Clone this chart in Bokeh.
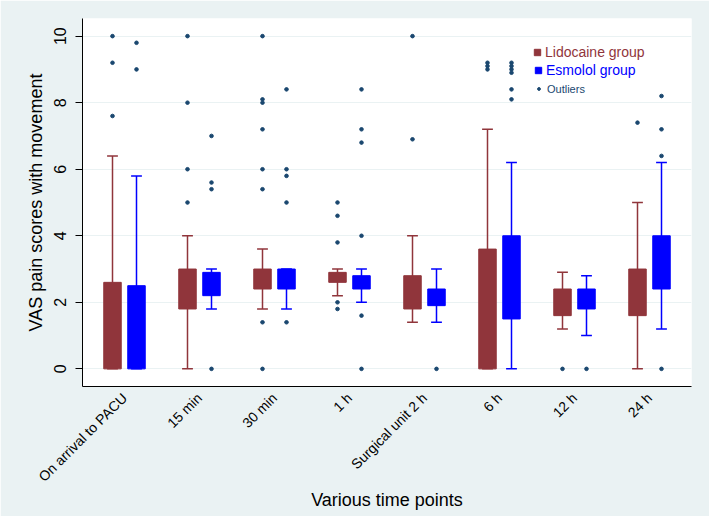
import math
from bokeh.plotting import figure
from bokeh.models import Range1d, FixedTicker, Legend, LegendItem
from bokeh.embed import file_html
from bokeh.resources import INLINE

categories = ["On arrival to PACU", "15 min", "30 min", "1 h",
              "Surgical unit 2 h", "6 h", "12 h", "24 h"]

# Lidocaine group: box (q1..q3), whisker ends, outliers
lido_q1 = [0.0, 1.8, 2.4, 2.6, 1.8, 0.0, 1.6, 1.6]
lido_q3 = [2.6, 3.0, 3.0, 2.9, 2.8, 3.6, 2.4, 3.0]
lido_lo = [0.0, 0.0, 1.8, 2.2, 1.4, 0.0, 1.2, 0.0]
lido_hi = [6.4, 4.0, 3.6, 3.0, 4.0, 7.2, 2.9, 5.0]
lido_out = [[10, 9.2, 7.6], [10, 8, 6, 5], [10, 8.1, 8.0, 7.2, 6.0, 5.4, 1.4, 0],
            [5.0, 4.6, 3.8, 2.0, 1.8], [10, 6.9], [9.2, 9.1, 9.0], [0], [7.4]]

# Esmolol group
esmo_q1 = [0.0, 2.2, 2.4, 2.4, 1.9, 1.5, 1.8, 2.4]
esmo_q3 = [2.5, 2.9, 3.0, 2.8, 2.4, 4.0, 2.4, 4.0]
esmo_lo = [0.0, 1.8, 1.8, 2.0, 1.4, 0.0, 1.0, 1.2]
esmo_hi = [5.8, 3.0, 3.0, 3.0, 3.0, 6.2, 2.8, 6.2]
esmo_out = [[9.8, 9.0], [7.0, 5.6, 5.4, 0], [8.4, 6.0, 5.8, 5.0, 1.4],
            [8.4, 7.2, 6.8, 4.0, 1.6, 0], [0], [9.2, 9.1, 9.0, 8.9, 8.4, 8.1],
            [0], [8.2, 7.2, 6.4, 0]]

y_ticks = [0, 2, 4, 6, 8, 10]

BG = "#eaf2f3"
MAROON = "#90353b"
BLUE = "#0000ff"
NAVY = "#1a476f"
FONT = "Liberation Sans"

OFF = 0.16
BOX_W = 0.233
CAP = 0.072

p = figure(width=709, height=516, output_backend="svg", toolbar_location=None,
           x_range=Range1d(-0.56, 7.56), y_range=Range1d(-0.53, 10.53),
           min_border_left=82, min_border_right=18, min_border_top=18,
           min_border_bottom=130)
p.background_fill_color = "white"
p.border_fill_color = BG
p.outline_line_color = None
p.xgrid.grid_line_color = None
p.ygrid.grid_line_color = BG
p.ygrid.grid_line_width = 1.2

idx = list(range(len(categories)))


def draw_group(q1, q3, lo, hi, outs, shift, color):
    xs = [i + shift for i in idx]
    p.segment(x0=xs, y0=lo, x1=xs, y1=hi, line_color=color, line_width=1.5)
    p.segment(x0=[x - CAP for x in xs], y0=hi, x1=[x + CAP for x in xs], y1=hi,
              line_color=color, line_width=1.5)
    p.segment(x0=[x - CAP for x in xs], y0=lo, x1=[x + CAP for x in xs], y1=lo,
              line_color=color, line_width=1.5)
    p.vbar(x=xs, width=BOX_W, bottom=q1, top=q3, fill_color=color,
           line_color=color, line_width=1)
    ox, oy = [], []
    for x, vals in zip(xs, outs):
        for v in vals:
            ox.append(x)
            oy.append(v)
    return p.scatter(x=ox, y=oy, size=3.6, color=NAVY, marker="circle")


out_r = draw_group(lido_q1, lido_q3, lido_lo, lido_hi, lido_out, -OFF, MAROON)
draw_group(esmo_q1, esmo_q3, esmo_lo, esmo_hi, esmo_out, OFF, BLUE)

# axes
p.xaxis.ticker = FixedTicker(ticks=idx)
p.xaxis.major_label_overrides = {i: c for i, c in enumerate(categories)}
p.xaxis.major_label_orientation = math.pi / 4
p.xaxis.major_tick_out = 0
p.xaxis.major_tick_in = 0
p.xaxis.minor_tick_out = 0
p.xaxis.minor_tick_in = 0
p.xaxis.major_label_standoff = 9
p.xaxis.major_label_text_font_size = "14px"
p.xaxis.axis_label = "Various time points"
p.xaxis.axis_label_standoff = -3
p.xaxis.axis_line_color = "black"

p.yaxis.ticker = FixedTicker(ticks=y_ticks)
p.yaxis.minor_tick_line_color = None
p.yaxis.major_tick_out = 7
p.yaxis.major_tick_in = 0
p.yaxis.major_label_orientation = "parallel"
p.yaxis.major_label_standoff = 9
p.yaxis.major_label_text_font_size = "16px"
p.yaxis.axis_label = "VAS pain scores with movement"
p.yaxis.axis_label_standoff = 6
p.yaxis.axis_line_color = "black"

for ax in (p.xaxis[0], p.yaxis[0]):
    ax.major_label_text_font = FONT
    ax.major_label_text_color = "black"
    ax.axis_label_text_font = FONT
    ax.axis_label_text_font_style = "normal"
    ax.axis_label_text_font_size = "18px"
    ax.axis_label_text_color = "black"

# legend keys: renderers with a single non-finite point (not drawn in the plot)
nan = float("nan")
key_l = p.scatter(x=[nan], y=[nan], marker="square", color=MAROON)
key_e = p.scatter(x=[nan], y=[nan], marker="square", color=BLUE)


def add_legend(label, rend, loc, color, size, gw, gh, standoff):
    lg = Legend(items=[LegendItem(label=label, renderers=[rend])], location=loc,
                padding=0, margin=0, spacing=0, border_line_color=None,
                background_fill_alpha=0, glyph_width=gw, glyph_height=gh,
                label_height=gh, label_width=10, label_standoff=standoff,
                label_text_font=FONT, label_text_font_size=size,
                label_text_color=color)
    p.add_layout(lg)


add_legend("Lidocaine group", key_l, (447, 326), MAROON, "14px", 16, 16, 0)
add_legend("Esmolol group", key_e, (448, 308), BLUE, "14px", 16, 16, 0)
add_legend("Outliers", out_r, (453, 291), NAVY, "11px", 7, 13, 5)

open("out.html", "w").write(file_html(p, INLINE))
